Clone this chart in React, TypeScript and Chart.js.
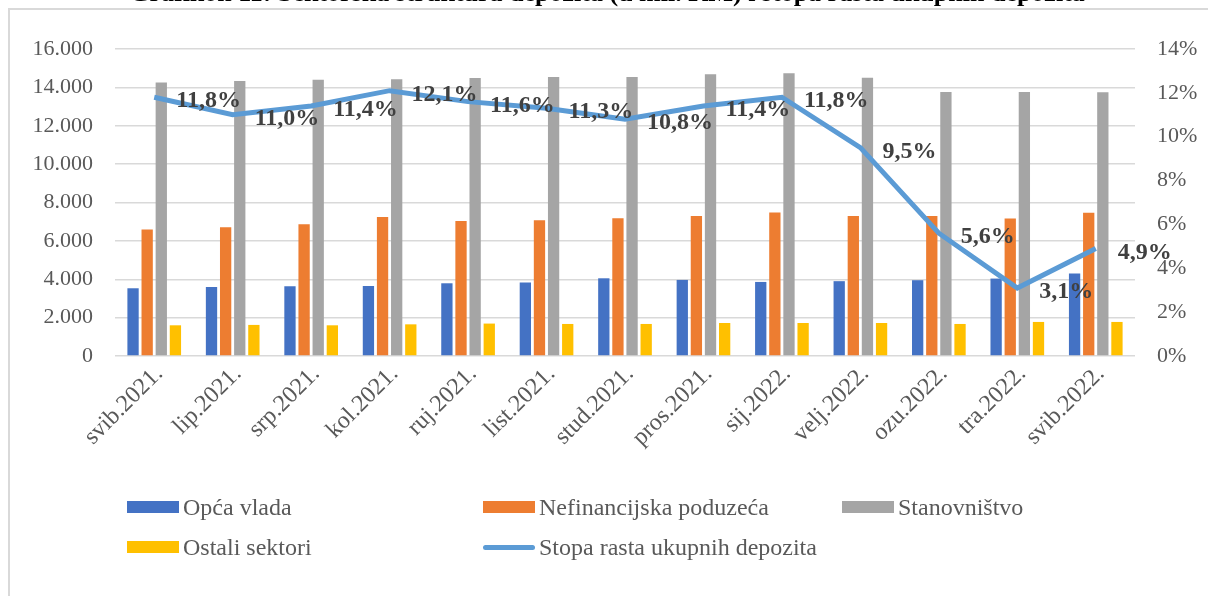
import React, { useEffect, useRef } from "react";
import { Chart, registerables } from "chart.js";

Chart.register(...registerables);

const categories = [
  "svib.2021.", "lip.2021.", "srp.2021.", "kol.2021.", "ruj.2021.", "list.2021.", "stud.2021.",
  "pros.2021.", "sij.2022.", "velj.2022.", "ozu.2022.", "tra.2022.", "svib.2022.",
];
const opcaVlada = [3530, 3600, 3635, 3650, 3790, 3830, 4050, 3965, 3860, 3900, 3950, 4035, 4300];
const nefinancijska = [6590, 6710, 6870, 7250, 7030, 7080, 7180, 7290, 7480, 7300, 7290, 7165, 7460];
const stanovnistvo = [14260, 14330, 14400, 14420, 14490, 14540, 14540, 14680, 14730, 14500, 13760, 13760, 13740];
const ostaliSektori = [1600, 1620, 1600, 1650, 1690, 1670, 1670, 1720, 1720, 1720, 1670, 1775, 1775];
const stopaRasta = [11.8, 11.0, 11.4, 12.1, 11.6, 11.3, 10.8, 11.4, 11.8, 9.5, 5.6, 3.1, 4.9];

const seriesNames = ["Opća vlada", "Nefinancijska poduzeća", "Stanovništvo", "Ostali sektori", "Stopa rasta ukupnih depozita"];
const colors = ["#4472c4", "#ed7d31", "#a5a5a5", "#ffc000", "#5b9bd5"];

const FONT = '"Liberation Serif", "Times New Roman", serif';
const W = 1198;
const H = 586;

const fmtThousands = (v: number) => {
  if (v >= 1000) {
    const t = Math.floor(v / 1000);
    const r = v % 1000;
    return `${t}.${String(r).padStart(3, "0")}`;
  }
  return `${v}`;
};
const fmtPct = (v: number) => `${v.toFixed(1).replace(".", ",")}%`;

const lineLabels = {
  id: "lineLabels",
  afterDatasetsDraw(chart: any) {
    const meta = chart.getDatasetMeta(4);
    const ctx = chart.ctx;
    ctx.save();
    ctx.font = `bold 24px ${FONT}`;
    ctx.fillStyle = "#404040";
    ctx.textAlign = "left";
    ctx.textBaseline = "middle";
    meta.data.forEach((pt: any, i: number) => {
      ctx.fillText(fmtPct(stopaRasta[i]), pt.x + 22, pt.y + 4);
    });
    ctx.restore();
  },
};

export default function App() {
  const ref = useRef<HTMLCanvasElement | null>(null);

  useEffect(() => {
    if (!ref.current) return;
    const barCommon = { barPercentage: 0.8, categoryPercentage: 0.72, order: 1, yAxisID: "y" };
    const chart = new Chart(ref.current, {
      type: "bar",
      data: {
        labels: categories,
        datasets: [
          { ...barCommon, label: seriesNames[0], data: opcaVlada, backgroundColor: colors[0] },
          { ...barCommon, label: seriesNames[1], data: nefinancijska, backgroundColor: colors[1] },
          { ...barCommon, label: seriesNames[2], data: stanovnistvo, backgroundColor: colors[2] },
          { ...barCommon, label: seriesNames[3], data: ostaliSektori, backgroundColor: colors[3] },
          {
            type: "line",
            label: seriesNames[4],
            data: stopaRasta,
            yAxisID: "y1",
            borderColor: colors[4],
            backgroundColor: colors[4],
            borderWidth: 5,
            pointRadius: 0,
            tension: 0,
            order: 0,
          } as any,
        ],
      },
      options: {
        responsive: false,
        animation: false,
        layout: { padding: { top: 39, left: 0, right: 0, bottom: 0 } },
        plugins: { legend: { display: false }, tooltip: { enabled: false } },
        scales: {
          x: {
            grid: { display: false, drawTicks: false },
            border: { display: false },
            ticks: {
              autoSkip: false,
              maxRotation: 45,
              minRotation: 45,
              padding: 4,
              labelOffset: 5,
              color: "#595959",
              font: { family: FONT, size: 24 },
            },
            afterFit: (s: any) => {
              s.height = H - 346;
            },
          },
          y: {
            position: "left",
            min: 0,
            max: 16000,
            ticks: {
              stepSize: 2000,
              padding: 22,
              color: "#595959",
              font: { family: FONT, size: 22 },
              callback: (v: any) => fmtThousands(Number(v)),
            },
            grid: { color: "#d9d9d9", lineWidth: 1.5, drawTicks: false },
            border: { display: false },
            afterFit: (s: any) => {
              s.width = 105;
            },
          },
          y1: {
            position: "right",
            min: 0,
            max: 14,
            ticks: {
              stepSize: 2,
              padding: 22,
              color: "#595959",
              font: { family: FONT, size: 22 },
              callback: (v: any) => `${v}%`,
            },
            grid: { display: false, drawTicks: false },
            border: { display: false },
            afterFit: (s: any) => {
              s.width = W - 1125;
            },
          },
        },
      } as any,
      plugins: [lineLabels],
    });
    return () => chart.destroy();
  }, []);

  const legendItem = (i: number, left: number, top: number) => (
    <div
      key={i}
      style={{
        position: "absolute",
        left,
        top: top - 15,
        height: 30,
        display: "flex",
        alignItems: "center",
        whiteSpace: "nowrap",
      }}
    >
      {i === 4 ? (
        <span style={{ display: "inline-block", width: 52, height: 5, borderRadius: 3, background: colors[i] }} />
      ) : (
        <span style={{ display: "inline-block", width: 52, height: 12, background: colors[i] }} />
      )}
      <span style={{ marginLeft: 4, fontFamily: FONT, fontSize: 24, color: "#595959" }}>{seriesNames[i]}</span>
    </div>
  );

  return (
    <div
      style={{
        position: "fixed",
        left: 8,
        top: 8,
        width: 1300,
        height: 700,
        borderLeft: "2px solid #d9d9d9",
        borderTop: "2px solid #d9d9d9",
        background: "transparent",
      }}
    >
      <div
        style={{
          position: "absolute",
          left: -10,
          top: -30,
          width: 1214,
          textAlign: "center",
          fontFamily: FONT,
          fontWeight: "bold",
          fontSize: 26,
          lineHeight: "26px",
          color: "#000",
          whiteSpace: "nowrap",
        }}
      >
        Grafikon 11: Sektorska struktura depozita (u mil. KM) i stopa rasta ukupnih depozita
      </div>
      <canvas ref={ref} width={W} height={H} style={{ position: "absolute", left: 0, top: 0, width: W, height: H }} />
      {legendItem(0, 117, 497)}
      {legendItem(1, 473, 497)}
      {legendItem(2, 832, 497)}
      {legendItem(3, 117, 537)}
      {legendItem(4, 473, 537)}
    </div>
  );
}
